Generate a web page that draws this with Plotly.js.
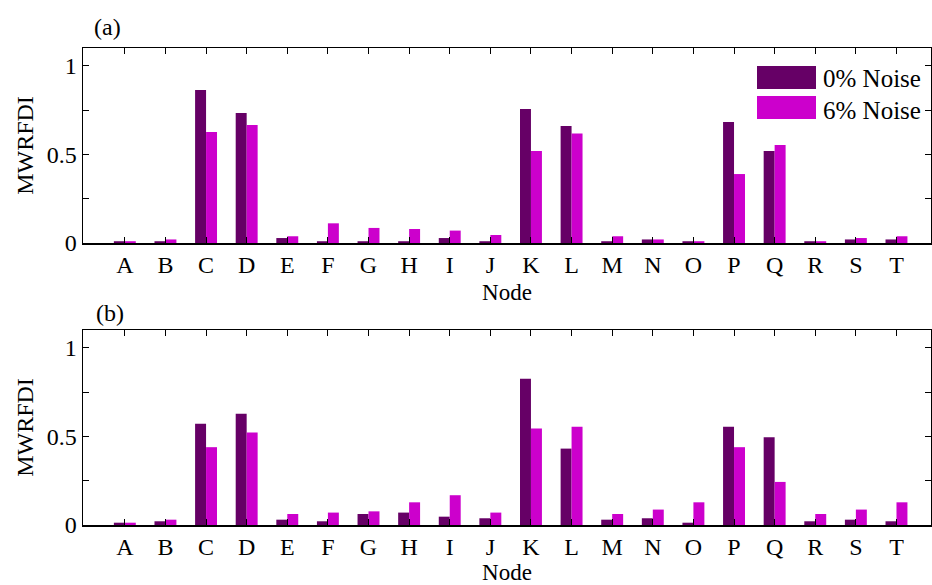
<!DOCTYPE html>
<html>
<head>
<meta charset="utf-8">
<script src="https://cdn.plot.ly/plotly-3.0.1.min.js"></script>
<style>html,body{margin:0;padding:0;background:#fff;}#chart{width:932px;height:585px;}</style>
</head>
<body>
<div id="chart"></div>
<script>
const nodes = ["A","B","C","D","E","F","G","H","I","J","K","L","M","N","O","P","Q","R","S","T"];
const seriesNames = ["0% Noise", "6% Noise"];
const panelA_noise0 = [0.01,0.01,0.863,0.733,0.028,0.01,0.01,0.01,0.028,0.01,0.756,0.66,0.01,0.02,0.01,0.682,0.519,0.01,0.02,0.02];
const panelA_noise6 = [0.01,0.02,0.626,0.665,0.038,0.111,0.085,0.079,0.07,0.045,0.519,0.618,0.038,0.02,0.01,0.389,0.553,0.01,0.028,0.038];
const panelB_noise0 = [0.013,0.021,0.571,0.627,0.03,0.021,0.062,0.07,0.047,0.038,0.825,0.431,0.03,0.038,0.013,0.554,0.495,0.021,0.03,0.021];
const panelB_noise6 = [0.013,0.03,0.439,0.522,0.062,0.07,0.077,0.128,0.168,0.07,0.544,0.554,0.062,0.087,0.128,0.439,0.243,0.062,0.087,0.128];
const panelLabels = ["(a)", "(b)"];
const xTitle = "Node";
const yTitle = "MWRFDI";

const c0 = "#660066", c6 = "#CC00CC";
const FONT = "Liberation Serif";
const H = 585, MT = 48, MB = 60, PH = H - MT - MB;
const py = (p) => 1 - (p - MT) / PH;   // pixel row -> paper fraction
const px = (p) => (p - 83) / 848;

const traces = [
  {type:"bar", x:nodes, y:panelA_noise0, name:seriesNames[0], marker:{color:c0}, xaxis:"x", yaxis:"y", showlegend:false},
  {type:"bar", x:nodes, y:panelA_noise6, name:seriesNames[1], marker:{color:c6}, xaxis:"x", yaxis:"y", showlegend:false},
  {type:"bar", x:nodes, y:panelB_noise0, name:seriesNames[0], marker:{color:c0}, xaxis:"x2", yaxis:"y2", showlegend:false},
  {type:"bar", x:nodes, y:panelB_noise6, name:seriesNames[1], marker:{color:c6}, xaxis:"x2", yaxis:"y2", showlegend:false}
];

function xax(anchor, standoff){
  return {
    anchor: anchor, domain:[0,1], type:"category", range:[-1.03, 19.85],
    showline:true, mirror:"ticks", linecolor:"#000", linewidth:1.5,
    ticks:"inside", ticklen:6, tickcolor:"#000", showgrid:false, zeroline:false,
    tickfont:{family:FONT, size:24, color:"#000"},
    title:{text:xTitle, font:{family:FONT, size:23, color:"#000"}, standoff:standoff}
  };
}
function yax(anchor, dom){
  return {
    anchor: anchor, domain:dom, range:[0,1.1],
    tickvals:[0,0.5,1], ticktext:["0","0.5","1"],
    minor:{tickvals:[0.25,0.75], ticks:"inside", ticklen:6, tickcolor:"#000"},
    showline:true, mirror:"ticks", linecolor:"#000", linewidth:1.5,
    ticks:"inside", ticklen:6, tickcolor:"#000", showgrid:false, zeroline:false,
    tickfont:{family:FONT, size:24, color:"#000"},
    title:{text:yTitle, font:{family:FONT, size:24, color:"#000"}, standoff:6}
  };
}

const layout = {
  width:932, height:H,
  margin:{l:83, r:1, t:MT, b:MB},
  paper_bgcolor:"#fff", plot_bgcolor:"#fff",
  barmode:"group", bargap:0.46, bargroupgap:0,
  font:{family:FONT, color:"#000"},
  xaxis: xax("y", 6),
  yaxis: yax("x", [py(243), 1]),
  xaxis2: xax("y2", 10),
  yaxis2: yax("x2", [0, py(330)]),
  showlegend:false,
  shapes:[
    {type:"rect", xref:"paper", yref:"paper", x0:px(757), x1:px(816), y0:py(89), y1:py(66), fillcolor:c0, line:{width:0}},
    {type:"rect", xref:"paper", yref:"paper", x0:px(757), x1:px(816), y0:py(119), y1:py(96), fillcolor:c6, line:{width:0}}
  ],
  annotations:[
    {xref:"paper", yref:"paper", x:px(821), y:py(78), xanchor:"left", yanchor:"middle", text:seriesNames[0], showarrow:false, font:{family:FONT, size:25, color:"#000"}},
    {xref:"paper", yref:"paper", x:px(821), y:py(110), xanchor:"left", yanchor:"middle", text:seriesNames[1], showarrow:false, font:{family:FONT, size:25, color:"#000"}},
    {xref:"paper", yref:"paper", x:px(92), y:py(27), xanchor:"left", yanchor:"middle", text:panelLabels[0], showarrow:false, font:{family:FONT, size:24, color:"#000"}},
    {xref:"paper", yref:"paper", x:px(94), y:py(313), xanchor:"left", yanchor:"middle", text:panelLabels[1], showarrow:false, font:{family:FONT, size:24, color:"#000"}}
  ]
};

Plotly.newPlot("chart", traces, layout, {displayModeBar:false, staticPlot:true});
</script>
</body>
</html>
